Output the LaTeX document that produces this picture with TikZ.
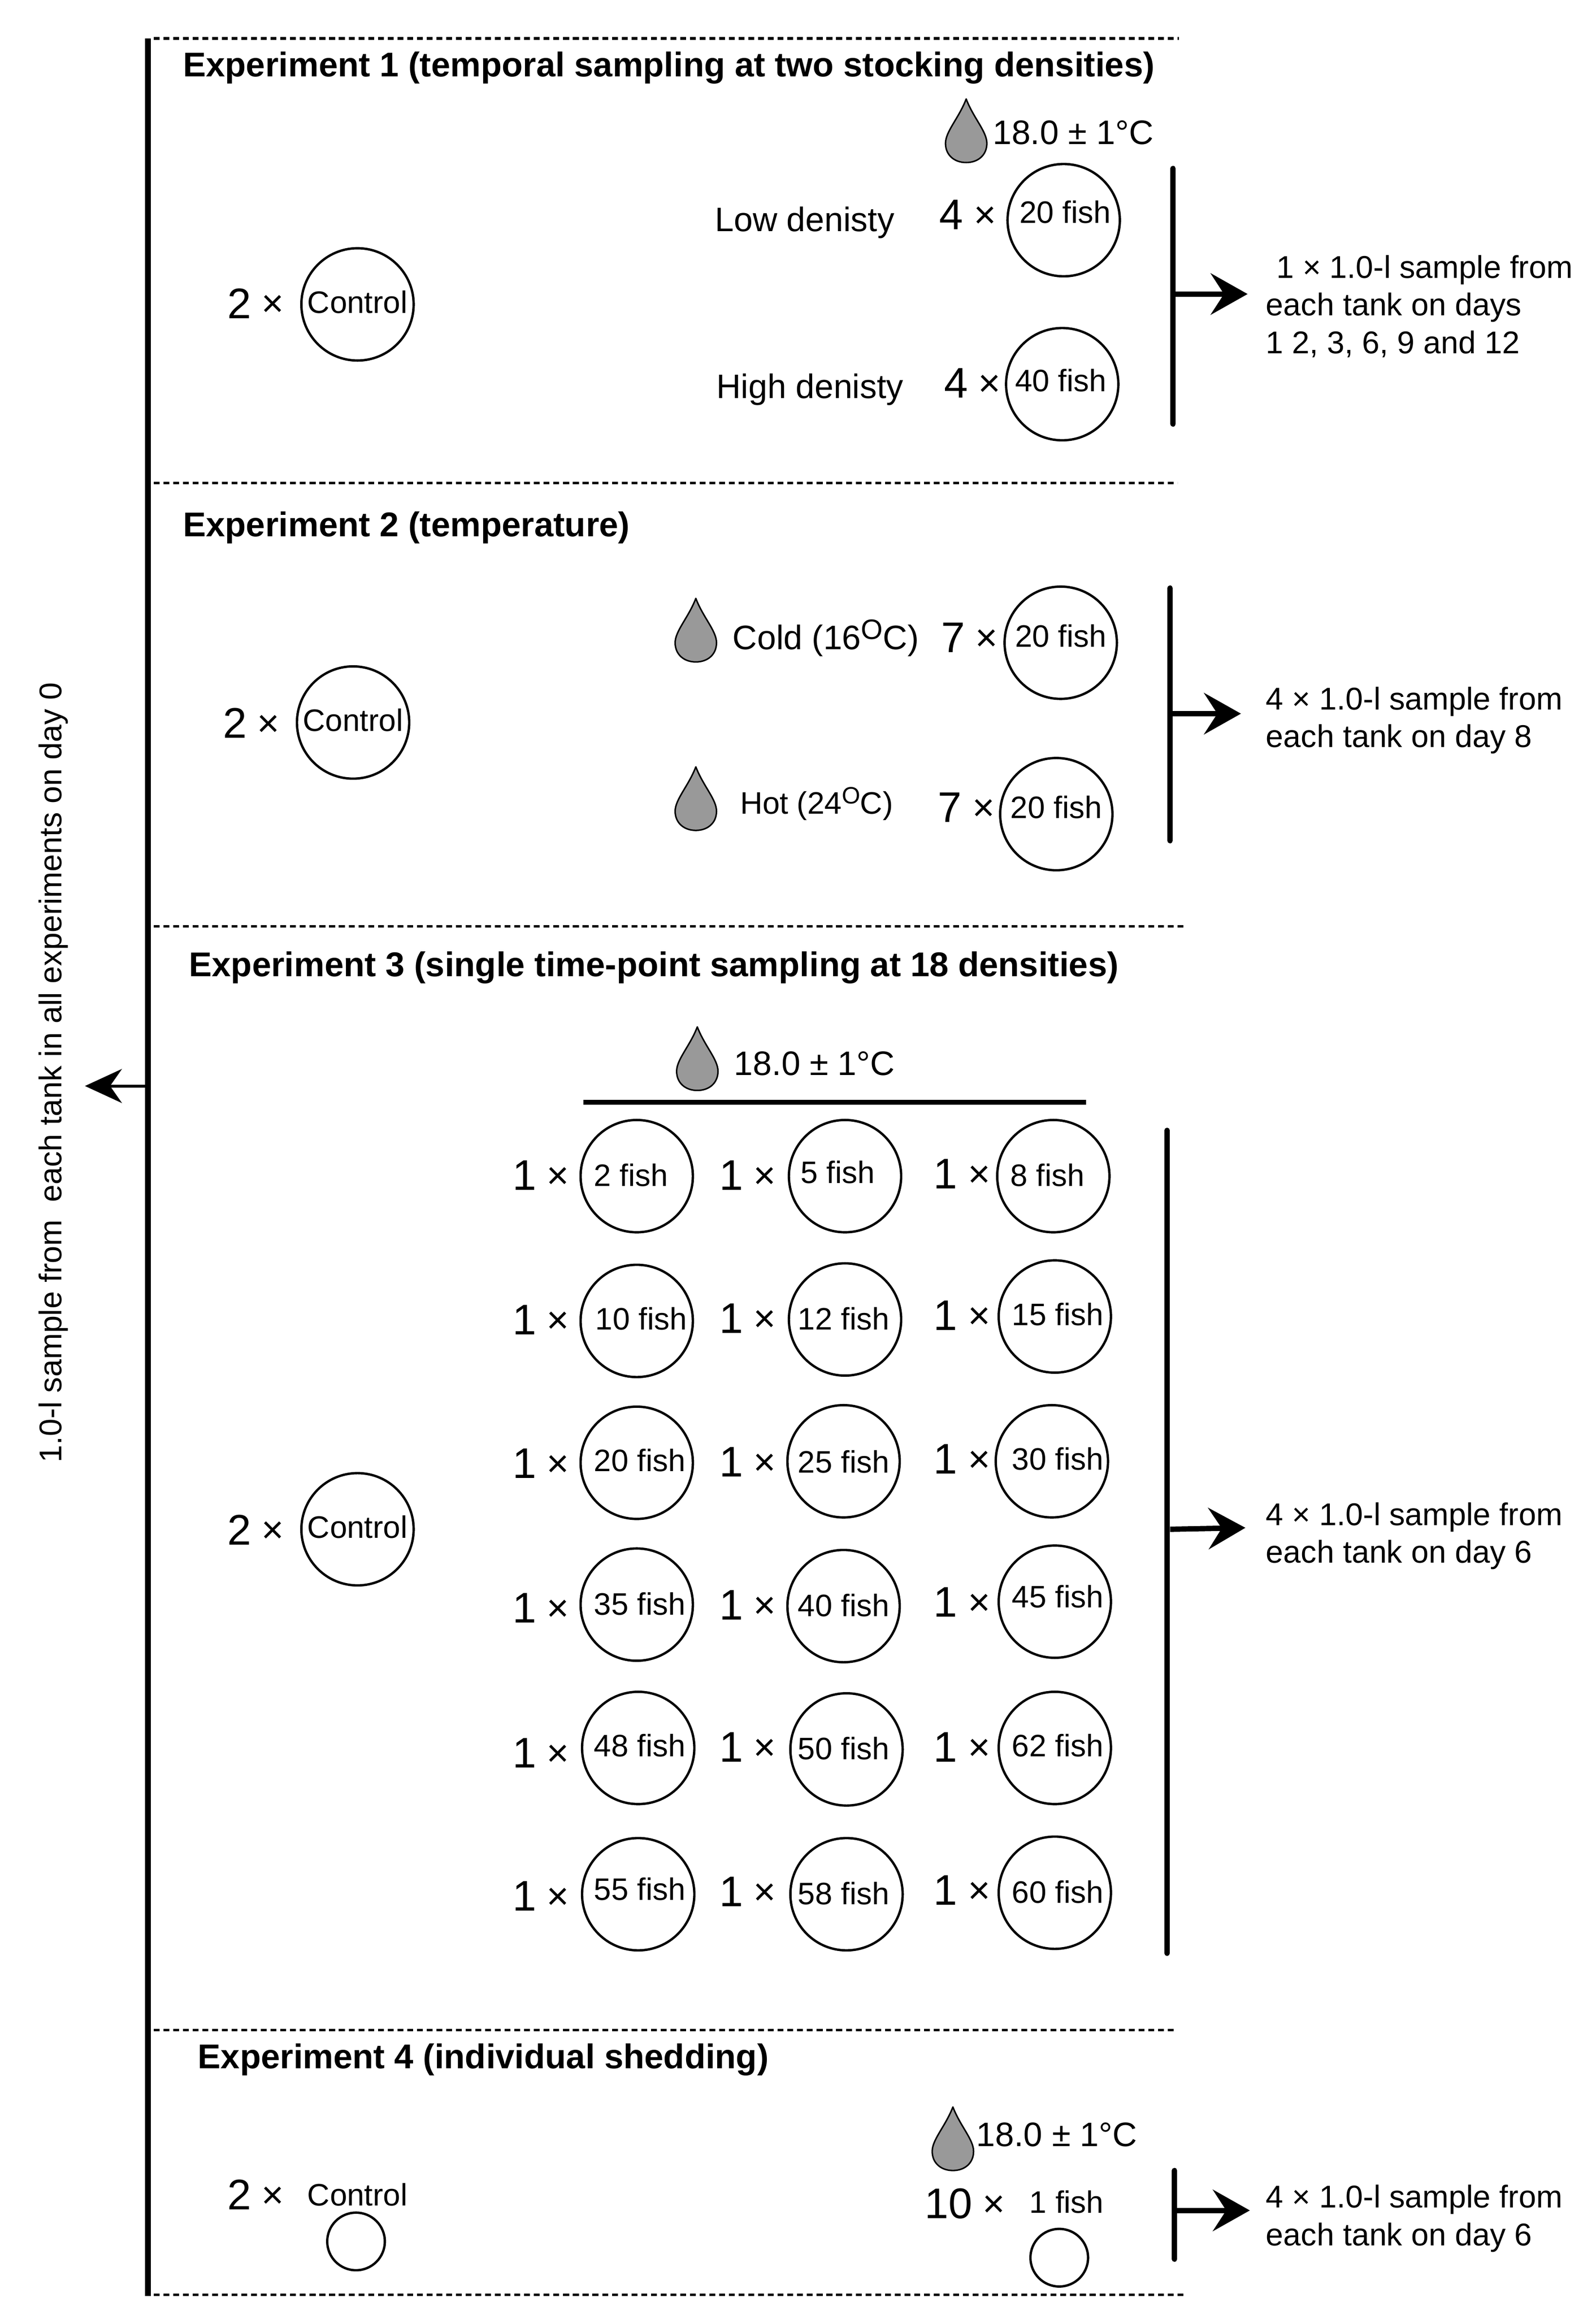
\documentclass[tikz,border=0pt]{standalone}
\usepackage{fontspec}
\setmainfont{Liberation Sans}
\usetikzlibrary{arrows.meta}
\tikzset{
  tbase/.style={inner sep=0pt,outer sep=0pt,text=black},
  ttitle/.style={tbase,anchor=base west,yshift=-8pt,font=\fontsize{23.25}{27}\selectfont\bfseries},
  tbody/.style={tbase,anchor=base west,yshift=-7.6pt,font=\fontsize{23}{27}\selectfont},
  tsmall/.style={tbase,anchor=base,yshift=-6.9pt,font=\fontsize{21}{25}\selectfont},
  tnote/.style={tbase,anchor=west,align=left,font=\fontsize{21.3}{25.5}\selectfont},
  tmult/.style={tbase,anchor=base west,yshift=-9.4pt,font=\fontsize{29}{32}\selectfont},
  tankc/.style={tbase,draw=black,line width=1.6pt,circle,minimum size=76pt},
  tinyc/.style={tbase,draw=black,line width=1.6pt,circle,minimum size=39pt},
  sepline/.style={line width=1.7pt,dash pattern=on 4pt off 2.6pt},
  barline/.style={line width=3.6pt,line cap=round},
  outarrow/.style={line width=3.6pt,-{Stealth[length=25pt,width=28pt,inset=9pt]}},
  backarrow/.style={line width=2pt,-{Stealth[length=25pt,width=23pt,inset=8pt]}},
  dropf/.style={fill=black!40,draw=black,line width=1pt,line join=round},
}
\newcommand{\dropat}[2]{\path[dropf] (#1,#2) .. controls (#1+5,#2+13) and (#1+14,#2+22) .. (#1+14,#2+30) .. controls (#1+14,#2+38) and (#1+8,#2+43) .. (#1,#2+43) .. controls (#1-8,#2+43) and (#1-14,#2+38) .. (#1-14,#2+30) .. controls (#1-14,#2+22) and (#1-5,#2+13) .. cycle;}
% name, circle x, circle y, label x, label y, label
\newcommand{\tankat}[6]{\node[tankc] (#1) at (#2,#3) {}; \node[tsmall] (#1l) at (#4,#5) {#6};}
% name, left, y, number
\newcommand{\multat}[4]{\node[tmult] (#1) at (#2,#3) {#4\hspace{7pt}\raisebox{1pt}{\fontsize{26}{28}\selectfont ×}};}
\begin{document}
\begin{tikzpicture}[x=1pt,y=-1pt]
\useasboundingbox (0,0) rectangle (1080,1566.8);
\fill[white] (0,0) rectangle (1080,1566.8);

% left spine
\coordinate (spT) at (100,26);
\coordinate (spB) at (100,1554);
\coordinate (spM) at (100,735);
\coordinate (spA) at (57.5,735);
\draw[line width=4pt] (spT) -- (spB);
\draw[backarrow] (spM) -- (spA);
\node[tbase,rotate=90,font=\fontsize{21.3}{25}\selectfont] (spL) at (36,726) {1.0-l sample from\ \ each tank in all experiments on day 0};

% separators
\coordinate (d1a) at (104,26);   \coordinate (d1b) at (798,26);
\coordinate (d2a) at (104,327);  \coordinate (d2b) at (797,327);
\coordinate (d3a) at (104,627);  \coordinate (d3b) at (802,627);
\coordinate (d4a) at (104,1374); \coordinate (d4b) at (795,1374);
\coordinate (d5a) at (104,1553); \coordinate (d5b) at (802,1553);
\draw[sepline] (d1a) -- (d1b);
\draw[sepline] (d2a) -- (d2b);
\draw[sepline] (d3a) -- (d3b);
\draw[sepline] (d4a) -- (d4b);
\draw[sepline] (d5a) -- (d5b);

% titles
\node[ttitle] (t1) at (124,44) {Experiment 1 (temporal sampling at two stocking densities)};
\node[ttitle] (t2) at (124,355) {Experiment 2 (temperature)};
\node[ttitle] (t3) at (128,653) {Experiment 3 (single time-point sampling at 18 densities)};
\node[ttitle] (t4) at (134,1392) {Experiment 4 (individual shedding)};

% Experiment 1
\dropat{654}{67}
\node[tbody] (e1temp) at (672,90) {18.0 ± 1°C};
\node[tbody] (e1low) at (484,149) {Low denisty};
\node[tbody] (e1high) at (485,262) {High denisty};
\multat{e1m1}{636}{146}{4}
\multat{e1m2}{639}{260}{4}
\tankat{e1a}{720}{149}{721}{144}{20 fish}
\tankat{e1b}{719}{260}{718}{258}{40 fish}
\multat{e1m0}{154}{206}{2}
\tankat{e1c}{242}{206}{242}{205}{Control}
\coordinate (b1t) at (794,114); \coordinate (b1b) at (794,287);
\coordinate (b1m) at (794,199); \coordinate (b1e) at (844.5,199);
\draw[barline] (b1t) -- (b1b);
\draw[outarrow] (b1m) -- (b1e);
\node[tnote] (n1) at (857,207.3) {\hspace*{7pt}1 × 1.0-l sample from\\each tank on days\\1 2, 3, 6, 9 and 12};

% Experiment 2
\multat{e2m0}{151}{490}{2}
\tankat{e2c}{239}{489}{239}{488}{Control}
\dropat{471}{405}
\dropat{471}{519}
\node[tbody] (e2cold) at (496,432) {Cold (16\raisebox{7pt}{\fontsize{19}{20}\selectfont O}C)};
\node[tbase,anchor=base west,yshift=-6.9pt,font=\fontsize{21}{25}\selectfont] (e2hot) at (501,544) {Hot (24\raisebox{7pt}{\fontsize{16}{18}\selectfont O}C)};
\multat{e2m1}{637}{432}{7}
\multat{e2m2}{635}{547}{7}
\tankat{e2a}{718}{435}{718}{431}{20 fish}
\tankat{e2b}{715}{551}{715}{547}{20 fish}
\coordinate (b2t) at (792,398); \coordinate (b2b) at (792,569);
\coordinate (b2m) at (792,483); \coordinate (b2e) at (840,483);
\draw[barline] (b2t) -- (b2b);
\draw[outarrow] (b2m) -- (b2e);
\node[tnote] (n2) at (857,487.5) {4 × 1.0-l sample from\\each tank on day 8};

% Experiment 3
\multat{e3m0}{154}{1036}{2}
\tankat{e3c}{242}{1035}{242}{1034}{Control}
\dropat{472}{695}
\node[tbody] (e3temp) at (497,720) {18.0 ± 1°C};
\coordinate (h3a) at (395,746); \coordinate (h3b) at (735,746);
\draw[line width=3.6pt] (h3a) -- (h3b);
% row 1
\multat{r1am}{347}{796}{1} \tankat{r1a}{431}{796}{427}{796}{2 fish}
\multat{r1bm}{487}{796}{1} \tankat{r1b}{572}{796}{567}{794}{5 fish}
\multat{r1cm}{632}{795}{1} \tankat{r1c}{713}{796}{709}{796}{8 fish}
% row 2
\multat{r2am}{347}{894}{1} \tankat{r2a}{431}{894}{434}{893}{10 fish}
\multat{r2bm}{487}{893}{1} \tankat{r2b}{572}{893}{571}{893}{12 fish}
\multat{r2cm}{632}{891}{1} \tankat{r2c}{714}{891}{716}{890}{15 fish}
% row 3
\multat{r3am}{347}{991}{1} \tankat{r3a}{431}{990}{433}{989}{20 fish}
\multat{r3bm}{487}{990}{1} \tankat{r3b}{571}{989}{571}{990}{25 fish}
\multat{r3cm}{632}{988}{1} \tankat{r3c}{712}{989}{716}{988}{30 fish}
% row 4
\multat{r4am}{347}{1089}{1} \tankat{r4a}{431}{1086}{433}{1086}{35 fish}
\multat{r4bm}{487}{1087}{1} \tankat{r4b}{571}{1087}{571}{1087}{40 fish}
\multat{r4cm}{632}{1085}{1} \tankat{r4c}{714}{1084}{716}{1081}{45 fish}
% row 5
\multat{r5am}{347}{1187}{1} \tankat{r5a}{432}{1183}{433}{1182}{48 fish}
\multat{r5bm}{487}{1183}{1} \tankat{r5b}{573}{1184}{571}{1184}{50 fish}
\multat{r5cm}{632}{1183}{1} \tankat{r5c}{714}{1183}{716}{1182}{62 fish}
% row 6
\multat{r6am}{347}{1284}{1} \tankat{r6a}{432}{1282}{433}{1279}{55 fish}
\multat{r6bm}{487}{1281}{1} \tankat{r6b}{573}{1282}{571}{1282}{58 fish}
\multat{r6cm}{632}{1280}{1} \tankat{r6c}{714}{1281}{716}{1281}{60 fish}
\coordinate (b3t) at (790,765); \coordinate (b3b) at (790,1322);
\coordinate (b3m) at (792,1035); \coordinate (b3e) at (843,1034);
\draw[barline] (b3t) -- (b3b);
\draw[outarrow] (b3m) -- (b3e);
\node[tnote] (n3) at (857,1039.5) {4 × 1.0-l sample from\\each tank on day 6};

% Experiment 4
\multat{e4m0}{154}{1486}{2}
\node[tsmall] (e4cl) at (242,1486) {Control};
\node[tinyc] (e4c) at (241,1517) {};
\dropat{645}{1426}
\node[tbody] (e4temp) at (661,1445) {18.0 ± 1°C};
\multat{e4m1}{626}{1492}{10}
\node[tsmall] (e4al) at (722,1491) {1 fish};
\node[tinyc] (e4a) at (717,1528) {};
\coordinate (b4t) at (795,1469); \coordinate (b4b) at (795,1529);
\coordinate (b4m) at (795,1496); \coordinate (b4e) at (846,1496);
\draw[barline] (b4t) -- (b4b);
\draw[outarrow] (b4m) -- (b4e);
\node[tnote] (n4) at (857,1501.5) {4 × 1.0-l sample from\\each tank on day 6};
\end{tikzpicture}
\end{document}
